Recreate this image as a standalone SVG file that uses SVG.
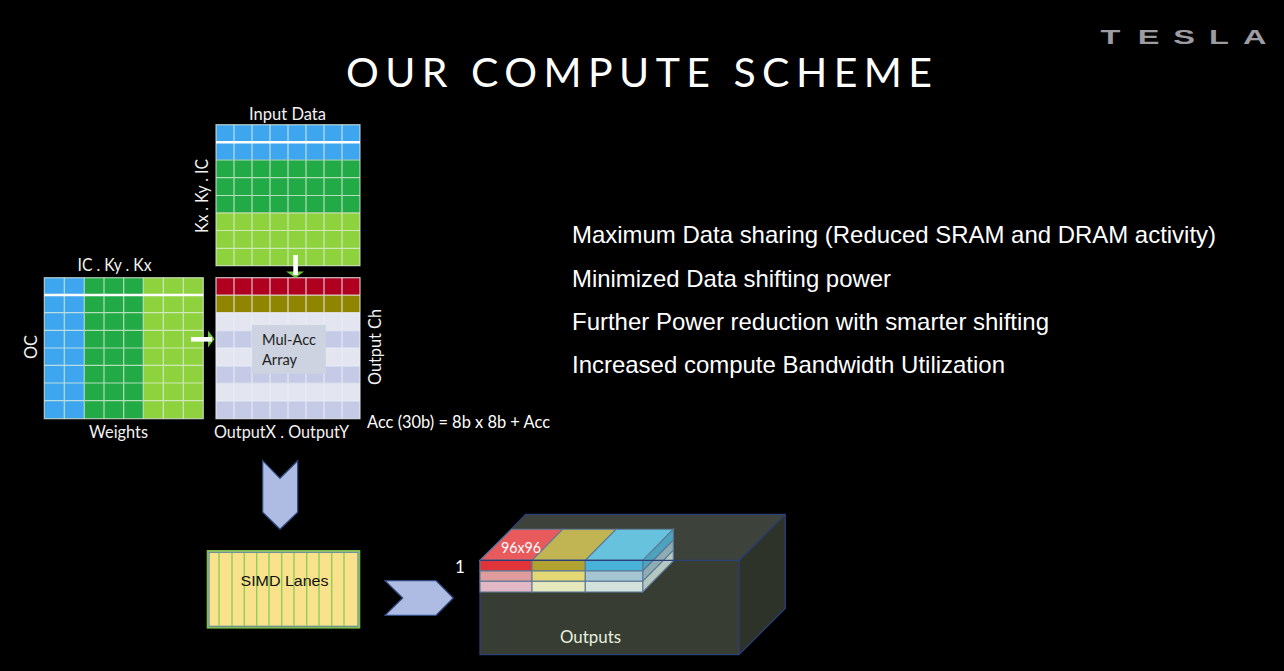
<svg xmlns="http://www.w3.org/2000/svg" width="1284" height="671" viewBox="0 0 1284 671">
<style>
.s{font-family:"Lato","Open Sans",sans-serif;font-size:17px;fill:#f2f2f2}
.r{font-family:"Liberation Sans",Arial,sans-serif;font-size:24px;fill:#fff}
.g{stroke:#e4efe0;stroke-opacity:.75;stroke-width:1.2;fill:none}
.c{fill:#aebbe3;stroke:#2f4a80;stroke-width:1.2}
.e{stroke:#2b3f78;stroke-width:1.3;fill:none}
.sl{stroke:#5c7a98;stroke-width:1.1}
.v{stroke:#8ccf55;stroke-width:1.4}
</style>
<rect width="1284" height="671" fill="#000"/>
<g id="title"><text x="346" y="87" font-family="Lato,Liberation Sans,sans-serif" font-weight="400" font-size="41" fill="#fff" textLength="586" lengthAdjust="spacing">OUR COMPUTE SCHEME</text></g>
<g id="logo"><text transform="translate(0 44) scale(1.55 1)" y="0" x="710 734 757 780 802" font-family="Liberation Sans,Arial,sans-serif" font-weight="700" font-size="21" fill="#9c9ca2">TESLA</text></g>

<g id="input-data">
<rect x="216" y="124.7" width="144" height="35.2" fill="#3ea6ee"/>
<rect x="216" y="159.9" width="144" height="52.9" fill="#21aa45"/>
<rect x="216" y="212.8" width="144" height="53" fill="#8ed23e"/>
<g class="g"><rect x="216" y="124.7" width="144" height="141"/>
<path d="M234 124.7V265.7M252 124.7V265.7M270 124.7V265.7M288 124.7V265.7M306 124.7V265.7M324 124.7V265.7M342 124.7V265.7M216 160H360M216 177.7H360M216 195.5H360M216 212.8H360M216 230.5H360M216 248.3H360"/></g>
<path d="M216 142.3H360" stroke="#fff" stroke-width="2.6"/>
<text class="s" x="287.5" y="120" text-anchor="middle" textLength="77" lengthAdjust="spacingAndGlyphs">Input Data</text>
<text class="s" transform="translate(208 233) rotate(-90)" textLength="74" lengthAdjust="spacingAndGlyphs">Kx . Ky . IC</text>
</g>

<g id="weights">
<rect x="44.3" y="277.7" width="40" height="141" fill="#3ea6ee"/>
<rect x="84.3" y="277.7" width="59" height="141" fill="#21aa45"/>
<rect x="143.3" y="277.7" width="60" height="141" fill="#8ed23e"/>
<g class="g"><rect x="44.3" y="277.7" width="159" height="141"/>
<path d="M64.3 277.7V418.7M84.3 277.7V418.7M104 277.7V418.7M123.7 277.7V418.7M143.3 277.7V418.7M163.3 277.7V418.7M183.3 277.7V418.7M44.3 312.7H203.3M44.3 330.3H203.3M44.3 348H203.3M44.3 365.3H203.3M44.3 383H203.3M44.3 400.7H203.3"/></g>
<path d="M44.3 295H203.3" stroke="#fff" stroke-width="2.6"/>
<text class="s" x="114.5" y="271" text-anchor="middle" textLength="74" lengthAdjust="spacingAndGlyphs">IC . Ky . Kx</text>
<text class="s" transform="translate(37 359) rotate(-90)" textLength="24" lengthAdjust="spacingAndGlyphs">OC</text>
<text class="s" x="118.5" y="438" text-anchor="middle" textLength="59" lengthAdjust="spacingAndGlyphs">Weights</text>
</g>

<g id="mul-acc-array">
<rect x="216" y="277.7" width="144" height="17.5" fill="#b00020"/>
<rect x="216" y="295" width="144" height="17.7" fill="#8f8500"/>
<rect x="216" y="312.7" width="144" height="18" fill="#e3e5f0"/>
<rect x="216" y="330.6" width="144" height="17.4" fill="#c5cae6"/>
<rect x="216" y="348" width="144" height="18" fill="#e3e5f0"/>
<rect x="216" y="366" width="144" height="17.4" fill="#c5cae6"/>
<rect x="216" y="383.4" width="144" height="17.6" fill="#e3e5f0"/>
<rect x="216" y="401" width="144" height="17.7" fill="#c5cae6"/>
<g stroke="#eef0f6" stroke-opacity=".8" stroke-width="1.2" fill="none"><rect x="216" y="277.7" width="144" height="141"/>
<path d="M234 277.7V418.7M252 277.7V418.7M270 277.7V418.7M288 277.7V418.7M306 277.7V418.7M324 277.7V418.7M342 277.7V418.7M216 295.2H360M216 312.7H360M216 330.6H360M216 348H360M216 366H360M216 383.4H360M216 401H360"/></g>
<rect x="252" y="325" width="73.7" height="48.7" fill="#cdd3e0"/>
<text x="262" y="345" font-family="Lato,Open Sans,sans-serif" font-size="15.5" fill="#222" textLength="54" lengthAdjust="spacingAndGlyphs">Mul-Acc</text>
<text x="262" y="365" font-family="Lato,Open Sans,sans-serif" font-size="15.5" fill="#222" textLength="35" lengthAdjust="spacingAndGlyphs">Array</text>
<text class="s" transform="translate(381 385) rotate(-90)" textLength="76" lengthAdjust="spacingAndGlyphs">Output Ch</text>
<text class="s" x="214" y="438" textLength="135" lengthAdjust="spacingAndGlyphs">OutputX . OutputY</text>
<text class="s" x="367" y="428" textLength="183" lengthAdjust="spacingAndGlyphs" style="fill:#fff">Acc (30b) = 8b x 8b + Acc</text>
</g>

<g id="simd-lanes">
<rect x="207.5" y="550.8" width="152" height="77" fill="#fae28c" stroke="#7fc04d" stroke-width="1.6"/>
<rect x="209" y="552.3" width="149" height="74" fill="none" stroke="#5a8a9a" stroke-width="1.2"/>
<g class="v"><path d="M219 553V626M232 553V626M244.3 553V626M256.7 553V626M269 553V626M281.7 553V626M294 553V626M306.7 553V626M319 553V626M331.7 553V626M344 553V626"/></g>
<text x="240.5" y="586" font-family="Liberation Sans,Arial,sans-serif" font-size="15" fill="#111" textLength="88" lengthAdjust="spacingAndGlyphs">SIMD Lanes</text>
</g>

<g id="outputs">
<path d="M480 560.3L525.7 514.3H785.3L739 560.3Z" fill="#3d423a"/>
<path d="M739 560.3L785.3 514.3V608.3L739 654.7Z" fill="#2e3329"/>
<rect x="480" y="560.3" width="259" height="94.4" fill="#383d33"/>
<path class="e" d="M480 560.3L525.7 514.3H785.3V608.3L739 654.7H480ZM739 560.3L785.3 514.3M739 560.3V654.7"/>
<g id="slab" class="sl">
<path d="M480 560.3L511.7 529.3H562.7L532 560.3Z" fill="#e85a5c"/>
<path d="M532 560.3L562.7 529.3H616L585.3 560.3Z" fill="#c1b553"/>
<path d="M585.3 560.3L616 529.3H673.3L642.7 560.3Z" fill="#66c2dd"/>
<path d="M642.7 560.3L673.3 529.3V540L642.7 571Z" fill="#4da3bd"/>
<path d="M642.7 571L673.3 540V550.3L642.7 581.3Z" fill="#8fabb3"/>
<path d="M642.7 581.3L673.3 550.3V561L642.7 592Z" fill="#b5c8c0"/>
<rect x="480" y="560.3" width="52" height="10.7" fill="#e0333a"/>
<rect x="532" y="560.3" width="53.3" height="10.7" fill="#b2a230"/>
<rect x="585.3" y="560.3" width="57.4" height="10.7" fill="#49b2d8"/>
<rect x="480" y="571" width="52" height="10.3" fill="#e09c9c"/>
<rect x="532" y="571" width="53.3" height="10.3" fill="#e3d873"/>
<rect x="585.3" y="571" width="57.4" height="10.3" fill="#a6c5d3"/>
<rect x="480" y="581.3" width="52" height="10.7" fill="#e2b8c4"/>
<rect x="532" y="581.3" width="53.3" height="10.7" fill="#e5e8bd"/>
<rect x="585.3" y="581.3" width="57.4" height="10.7" fill="#d3e3dc"/>
</g>
<path class="e" d="M480 560.3H739"/>
<text x="501" y="552.5" font-family="Lato,Open Sans,sans-serif" font-size="16" fill="#fff" textLength="40" lengthAdjust="spacingAndGlyphs">96x96</text>
<text x="560" y="643" font-family="Lato,Open Sans,sans-serif" font-size="17" fill="#e6efdf" textLength="61" lengthAdjust="spacingAndGlyphs">Outputs</text>
<text x="455" y="573" font-family="Lato,Open Sans,sans-serif" font-size="17" fill="#fff">1</text>
</g>

<g id="bullets">
<text class="r" x="572" y="243" textLength="644" lengthAdjust="spacingAndGlyphs">Maximum Data sharing (Reduced SRAM and DRAM activity)</text>
<text class="r" x="572" y="287" textLength="319" lengthAdjust="spacingAndGlyphs">Minimized Data shifting power</text>
<text class="r" x="572" y="330" textLength="477" lengthAdjust="spacingAndGlyphs">Further Power reduction with smarter shifting</text>
<text class="r" x="572" y="373" textLength="433" lengthAdjust="spacingAndGlyphs">Increased compute Bandwidth Utilization</text>
</g>

<g id="connectors">
<path d="M286 271.5H304L295.5 278Z" fill="#6fc23a"/>
<rect x="293.3" y="255" width="4.6" height="20" fill="#fff"/>
<path d="M208 330.5V347.5L214.5 339Z" fill="#6fc23a"/>
<rect x="191" y="337" width="21" height="4.6" fill="#fff"/>
<path class="c" d="M262.7 460.7L280 478.3L297.7 460.7V512.3L280 529.3L262.7 512.3Z"/>
<path class="c" d="M385 580.7H436L453.3 598L436 615.3H385L402.7 598Z"/>
</g>
</svg>
